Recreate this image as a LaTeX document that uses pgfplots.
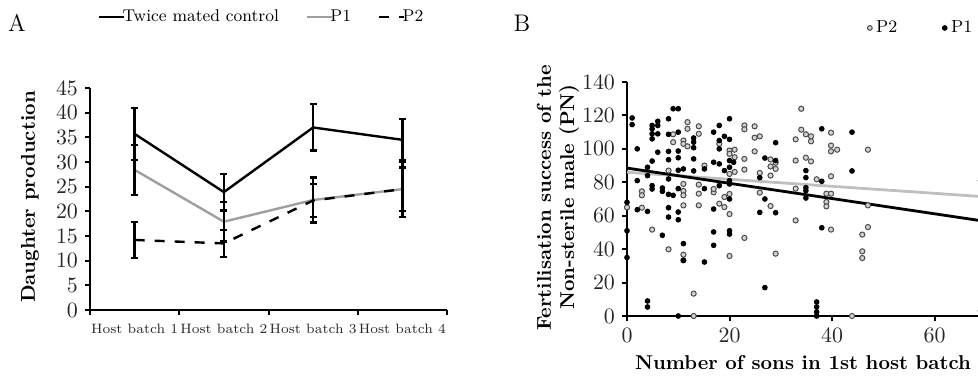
\documentclass[border=0pt]{standalone}
\usepackage{pgfplots}
\pgfplotsset{compat=1.18}
\begin{document}
\begin{tikzpicture}[x=1pt,y=1pt]
% ---------------- Panel A ----------------
\begin{axis}[
  at={(45pt,33.5pt)}, anchor=south west,
  scale only axis, width=178.5pt, height=111pt,
  xmin=0, xmax=4, ymin=0, ymax=45,
  axis x line*=bottom, axis y line*=left,
  axis line style={line width=1pt, -},
  tick align=outside, major tick length=2.5pt,
  tick style={line width=1pt, black},
  ytick={0,5,...,45},
  xtick={0,1,2,3,4}, xticklabels={},
  extra x ticks={0.5,1.5,2.5,3.5},
  extra x tick labels={Host batch 1,Host batch 2,Host batch 3,Host batch 4},
  extra x tick style={major tick length=0pt, tick label style={font=\fontsize{6.8}{8}\selectfont, black!85, yshift=-3.5pt}},
  yticklabel style={font=\fontsize{11}{12}\selectfont, black!85},
  legend columns=3,
  legend style={at={(0.02,1.32)}, anchor=west, draw=none, fill=none, inner sep=0pt,
    font=\fontsize{8.5}{10}\selectfont,
    /tikz/every odd column/.append style={column sep=-1.5pt},
    /tikz/every even column/.append style={column sep=13pt},
    nodes={inner sep=0.3pt}},
  legend image code/.code={\draw[#1] (0pt,0pt) -- (12.5pt,0pt);},
  clip=false,
]
\addplot[black, line width=1.2pt,
  error bars/.cd, y dir=both, y explicit,
  error bar style={black, solid, line width=1.2pt},
  error mark options={rotate=90, black, solid, line width=1.2pt, mark size=1.8pt}]
  coordinates {(0.5,35.7) +- (0,5.3) (1.5,23.9) +- (0,3.7) (2.5,37.0) +- (0,4.7) (3.5,34.5) +- (0,4.2)};
\addlegendentry{Twice mated control}
\addplot[gray!75, line width=1.2pt,
  error bars/.cd, y dir=both, y explicit,
  error bar style={black, solid, line width=1.2pt},
  error mark options={rotate=90, black, solid, line width=1.2pt, mark size=1.8pt}]
  coordinates {(0.5,28.4) +- (0,5.1) (1.5,17.9) +- (0,4.0) (2.5,22.3) +- (0,4.6) (3.5,24.5) +- (0,5.6)};
\addlegendentry{P1}
\addplot[black, line width=1.2pt, dash pattern=on 5pt off 5pt,
  error bars/.cd, y dir=both, y explicit,
  error bar style={black, solid, line width=1.2pt},
  error mark options={rotate=90, black, solid, line width=1.2pt, mark size=1.8pt}]
  coordinates {(0.5,14.2) +- (0,3.6) (1.5,13.5) +- (0,2.7) (2.5,22.2) +- (0,3.3) (3.5,24.5) +- (0,4.4)};
\addlegendentry{P2}
\end{axis}
\node[rotate=90, font=\bfseries] at (15pt,90pt) {Daughter production};
\node[font=\fontsize{12}{13}\selectfont] at (8.5pt,177pt) {A};
% ---------------- Panel B ----------------
\begin{axis}[
  at={(313.5pt,30.5pt)}, anchor=south west,
  scale only axis, width=179.4pt, height=117pt,
  xmin=0, xmax=70, ymin=0, ymax=140,
  axis x line*=bottom, axis y line*=left,
  axis line style={line width=1pt, -},
  tick align=outside, major tick length=2.5pt,
  tick style={line width=1pt, black},
  xtick={0,20,40,60}, ytick={0,20,...,140},
  ticklabel style={font=\fontsize{11}{12}\selectfont, black!85},
  legend columns=2,
  legend style={at={(0.669,1.231)}, anchor=west, draw=none, fill=none, inner sep=0pt,
    font=\fontsize{8.7}{10}\selectfont,
    /tikz/every odd column/.append style={column sep=1.5pt},
    /tikz/every even column/.append style={column sep=22pt},
    nodes={inner sep=0.5pt}},
  legend image code/.code={\draw[#1, mark size=1.2pt] plot coordinates {(1.5pt,0pt)};},
]
\addplot[only marks, mark=*, mark size=1.3pt, mark options={fill=gray!35, draw=gray!60!black, line width=0.5pt}]
  coordinates {
  (0,65) (2.9,74.6) (2.9,72.2) (2.9,64.8) (4.9,51.7) (8.1,39.9) (8.1,87)
  (9,108.7) (9,104) (11,79) (11,74.8) (11,72.2) (11,66.2) (11,36.7) (11,33.3)
  (11,105) (11,103) (11.8,116) (11.8,112) (11.8,101.5) (13,13.4) (13,0)
  (14,113.5) (14,109) (14,78.6) (14,73.2) (14,66.2) (15.1,90) (16.9,74) (16.9,76)
  (18,103) (18,67.2) (19,71.2) (19,65.2) (20,99) (20,97) (20,85) (20,73) (20,61) (20,35.9)
  (21,99.5) (21,95) (21,86.2) (22.9,114) (22.9,111.7) (22.9,94) (22.9,87.6) (22.9,46.7)
  (24.9,113.5) (24.9,106.7) (24.9,98.5) (25.9,107.5) (25.9,85.6) (25.9,73.8)
  (28,93.7) (28,89.5) (28,84) (28,65.8) (29,91.7) (29,88) (29,37.3)
  (32.9,105.7) (32.9,93) (32.9,76.2) (32.9,57.2) (34,124) (34,111.5) (34.9,108.7)
  (35.9,107.5) (35.9,104.5) (34.9,94.7) (35.9,92.5) (37,81.8)
  (38.9,73.2) (38.9,68.2) (38.9,65.6) (39.8,109.7) (39.8,102) (39.8,98.5) (39.8,83.6)
  (39.8,73.2) (39.8,51.7) (41,99.5) (43.9,0) (45.9,48.7) (45.9,38.7) (45.9,34.7)
  (47,99.5) (47,66.2) (47,53.2) (69,81) (69,3)
  };
\addlegendentry{P2}
\addplot[only marks, mark=*, mark size=1.2pt, black]
  coordinates {
  (0,68) (0,51) (0,35) (1,118.5) (1,114.5) (2,100) (2,81) (2,63.6)
  (4,89) (4,84) (4,62.6) (4,9) (4,5.4)
  (4.9,114) (4.9,112) (4.9,109) (4.9,106) (4.9,92.7) (4.9,78) (4.9,76)
  (6,116.5) (6,114) (6,109) (6,98) (6.9,76.6) (6.9,74.6) (6.9,48.3)
  (8.1,118) (8.1,108.7) (8.1,98.5) (8.1,93.5) (8.1,82) (8.1,72.8) (8.1,64.8) (8.1,59.2)
  (9,124) (10,124) (9,72.2) (10,110) (10,98.7) (10,94.7) (10,87.2) (10,76.2) (10,62.2) (10,57.6) (10,0)
  (11,88) (11,43.3) (11,33.3) (13,100.7) (13,104) (13,106.5) (13,94) (13,86.8)
  (15.1,76.2) (15.1,88) (15.1,32.3) (16.9,92) (16.9,110) (16.9,64) (16.9,50.3) (16.9,42.3)
  (18,114) (18,105) (18,100) (18,91) (18,78) (19,107.5) (19,87)
  (20,118) (20,105.7) (20,93) (20,89) (20,81) (20,79) (20,70) (20,51) (20,49) (20.8,92)
  (25.9,82.8) (25.9,62) (26.9,94.5) (26.9,17) (26.9,70) (29,103.7) (29,93) (29,61.8)
  (34.9,87) (34.9,82.8) (34.9,76.8) (34.9,75) (34.9,70.6)
  (37,8.4) (37,5.4) (37,2.4) (37,0) (38,112) (38,80.6) (38,52.8) (43.9,110) (43.9,86.8)
  };
\addlegendentry{P1}
\addplot[gray!50, line width=1.4pt, forget plot] coordinates {(0,86) (70,71.3)};
\addplot[black, line width=1.4pt, forget plot] coordinates {(0,88.5) (70,56.6)};
\end{axis}
\node[rotate=90, font=\bfseries] at (272pt,89.5pt) {Fertilisation success of the};
\node[rotate=90, font=\bfseries] at (284.5pt,90pt) {Non-sterile male (PN)};
\node[font=\bfseries] at (401.5pt,7pt) {Number of sons in 1st host batch};
\node[font=\fontsize{12}{13}\selectfont] at (261pt,177pt) {B};
\pgfresetboundingbox
\useasboundingbox (0,0) rectangle (489pt,188.5pt);
\end{tikzpicture}
\end{document}
